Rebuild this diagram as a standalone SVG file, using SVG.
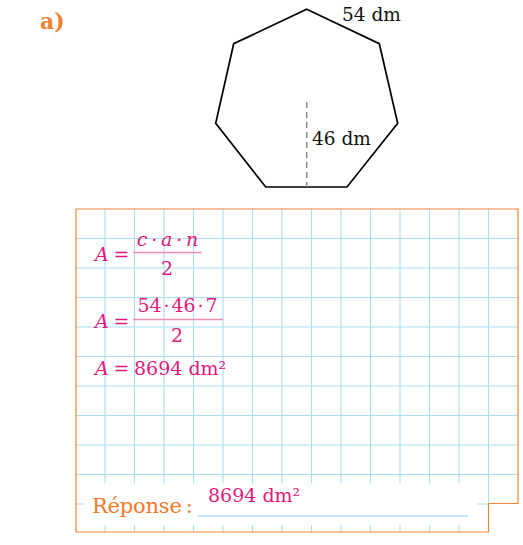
<svg xmlns="http://www.w3.org/2000/svg" width="523" height="545" viewBox="0 0 523 545">
<style>
.grid line{stroke:#a9ddf6;stroke-width:1.1}
.lbl{font-family:"DejaVu Serif","Liberation Serif",serif;font-size:18.5px;fill:#111}
.m{font-family:"DejaVu Serif","Liberation Serif",serif;font-size:19px;fill:#e2187e}
.i{font-style:italic}
.frac{stroke:#f08cba;stroke-width:1.3}
</style>
<rect width="523" height="545" fill="#fff"/>
<text x="40" y="29" font-family="DejaVu Serif, serif" font-weight="bold" font-size="22" fill="#f07f30">a)</text>
<g id="heptagon">
<polygon points="306.7,9.3 379.3,43.7 397.7,123.3 347,187 265.7,187 215.7,123.3 233.7,43.7" fill="none" stroke="#000" stroke-width="1.7" stroke-linejoin="miter"/>
<line x1="306.7" y1="102" x2="306.7" y2="187" stroke="#8a8a8a" stroke-width="1.5" stroke-dasharray="6,4"/>
<text class="lbl" x="342" y="21">54 dm</text>
<text class="lbl" x="312" y="145">46 dm</text>
</g>
<g id="workarea">
<g class="grid">
<line x1="105" y1="209" x2="105" y2="532"/>
<line x1="134.5" y1="209" x2="134.5" y2="532"/>
<line x1="164" y1="209" x2="164" y2="532"/>
<line x1="193.5" y1="209" x2="193.5" y2="532"/>
<line x1="223" y1="209" x2="223" y2="532"/>
<line x1="252.5" y1="209" x2="252.5" y2="532"/>
<line x1="282" y1="209" x2="282" y2="532"/>
<line x1="311.5" y1="209" x2="311.5" y2="532"/>
<line x1="341" y1="209" x2="341" y2="532"/>
<line x1="370.5" y1="209" x2="370.5" y2="532"/>
<line x1="400" y1="209" x2="400" y2="532"/>
<line x1="429.5" y1="209" x2="429.5" y2="532"/>
<line x1="459" y1="209" x2="459" y2="532"/>
<line x1="488.5" y1="209" x2="488.5" y2="503.5"/>
<line x1="76" y1="238.5" x2="518" y2="238.5"/>
<line x1="76" y1="268" x2="518" y2="268"/>
<line x1="76" y1="297.5" x2="518" y2="297.5"/>
<line x1="76" y1="327" x2="518" y2="327"/>
<line x1="76" y1="356.5" x2="518" y2="356.5"/>
<line x1="76" y1="386" x2="518" y2="386"/>
<line x1="76" y1="415.5" x2="518" y2="415.5"/>
<line x1="76" y1="445" x2="518" y2="445"/>
<line x1="76" y1="474.5" x2="518" y2="474.5"/>
<line x1="76" y1="504" x2="488.5" y2="504"/>
</g>
<rect x="84" y="483.3" width="393" height="41.7" fill="#fff"/>
<path d="M76,209 H518 V503.5 H488.5 V532 H76 Z" fill="none" stroke="#ef8538" stroke-width="1.2"/>
</g>
<g id="formula1">
<text class="m i" x="95" y="261">A</text>
<text class="m" x="121.5" y="261" text-anchor="middle">=</text>
<text class="m i" x="167.5" y="246" text-anchor="middle">c&#8201;·&#8201;a&#8201;·&#8201;n</text>
<line class="frac" x1="133" y1="252.5" x2="201.5" y2="252.5"/>
<text class="m" x="167" y="275" text-anchor="middle">2</text>
</g>
<g id="formula2">
<text class="m i" x="95" y="328">A</text>
<text class="m" x="121.5" y="328" text-anchor="middle">=</text>
<text class="m" x="177.5" y="312" text-anchor="middle">54&#8202;·&#8202;46&#8202;·&#8202;7</text>
<line class="frac" x1="133" y1="319.5" x2="223" y2="319.5"/>
<text class="m" x="177" y="342" text-anchor="middle">2</text>
</g>
<g id="formula3">
<text class="m i" x="95" y="375">A</text>
<text class="m" x="121.5" y="375" text-anchor="middle">=</text>
<text class="m" x="134" y="375">8694 dm²</text>
</g>
<g id="answer">
<text x="92" y="513" font-family="DejaVu Serif, serif" font-size="21" letter-spacing="-0.2" fill="#f07a2a">Réponse&#8201;:</text>
<line x1="198" y1="516" x2="468" y2="516" stroke="#a9ddf6" stroke-width="1.5"/>
<text class="m" x="208" y="502">8694 dm²</text>
</g>
</svg>
